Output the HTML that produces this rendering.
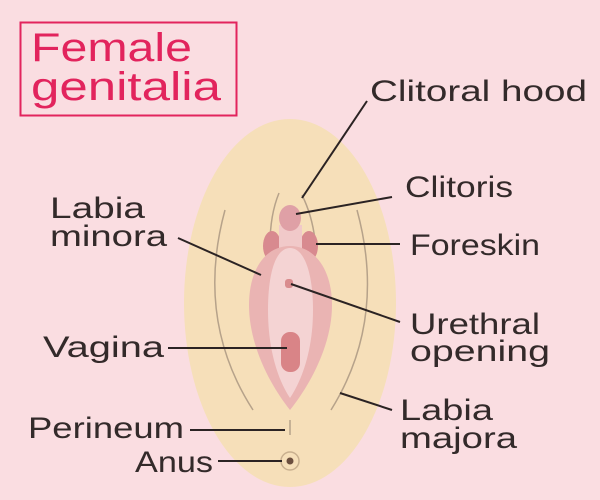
<!DOCTYPE html>
<html><head><meta charset="utf-8"><style>
html,body{margin:0;padding:0;background:#fadde1;}
svg{display:block}
text{font-family:"Liberation Sans",sans-serif;}
</style></head><body>
<svg width="600" height="500" viewBox="0 0 600 500" xmlns="http://www.w3.org/2000/svg">
<rect width="600" height="500" fill="#fadde1"/>
<rect x="20.5" y="22.5" width="216" height="93" fill="none" stroke="#e2245d" stroke-width="2"/>
<text x="31" y="61" font-size="40" fill="#e2245d" textLength="161" lengthAdjust="spacingAndGlyphs">Female</text>
<text x="31" y="100" font-size="40" fill="#e2245d" textLength="190" lengthAdjust="spacingAndGlyphs">genitalia</text>

<ellipse cx="290" cy="303" rx="106" ry="184" fill="#f6dfb9"/>
<path d="M225 210 Q195 320 253 410" fill="none" stroke="#b6a28a" stroke-width="1.5"/>
<path d="M357 210 Q387 320 331 410" fill="none" stroke="#b6a28a" stroke-width="1.5"/>
<path d="M279 193 Q270 215 270 245" fill="none" stroke="#b6a28a" stroke-width="1.5"/>
<path d="M302 195 Q312 215 315 240" fill="none" stroke="#b6a28a" stroke-width="1.5"/>
<ellipse cx="272" cy="246" rx="9" ry="15" fill="#d88a8f"/>
<ellipse cx="309" cy="246" rx="9" ry="15" fill="#d88a8f"/>
<rect x="279" y="225" width="23" height="28" fill="#f1c9c9"/>
<path d="M290 246 C265 246 249 270 249 305 C249 345 270 385 290 410 C310 385 332 345 332 305 C332 270 315 246 290 246 Z" fill="#eab4b3"/>
<path d="M290 248 C275 248 268 275 268 310 C268 350 278 380 290 398 C302 380 313 350 313 310 C313 275 305 248 290 248 Z" fill="#f4d3d3"/>
<ellipse cx="290" cy="218" rx="11" ry="13" fill="#dfa0a6"/>
<rect x="285" y="279" width="8" height="9" rx="3" fill="#d98c8e"/>
<rect x="281" y="332" width="19" height="40" rx="9" fill="#d98487"/>
<line x1="290" y1="420" x2="290" y2="435" stroke="#b6a28a" stroke-width="1.5"/>
<circle cx="290" cy="461" r="9" fill="none" stroke="#c9b08f" stroke-width="1.5"/>
<circle cx="290" cy="461" r="3.5" fill="#6b4e3e"/>

<g stroke="#2b2323" stroke-width="2" fill="none">
<line x1="367" y1="101" x2="302" y2="198"/>
<line x1="392" y1="197" x2="296" y2="214"/>
<line x1="316" y1="244" x2="400" y2="244"/>
<line x1="178" y1="238" x2="261" y2="275"/>
<line x1="291" y1="284" x2="400" y2="322"/>
<line x1="168" y1="348" x2="287" y2="348"/>
<line x1="340" y1="393" x2="392" y2="410"/>
<line x1="190" y1="430" x2="285" y2="430"/>
<line x1="218" y1="461" x2="282" y2="461"/>
</g>
<g fill="#332a2a" font-size="30">
<text x="370" y="101" textLength="217" lengthAdjust="spacingAndGlyphs">Clitoral hood</text>
<text x="405" y="197" textLength="108" lengthAdjust="spacingAndGlyphs">Clitoris</text>
<text x="410" y="255" textLength="130" lengthAdjust="spacingAndGlyphs">Foreskin</text>
<text x="50" y="218" textLength="95" lengthAdjust="spacingAndGlyphs">Labia</text>
<text x="50" y="246" textLength="117" lengthAdjust="spacingAndGlyphs">minora</text>
<text x="410" y="334" textLength="130" lengthAdjust="spacingAndGlyphs">Urethral</text>
<text x="410" y="361" textLength="140" lengthAdjust="spacingAndGlyphs">opening</text>
<text x="43" y="357" textLength="121" lengthAdjust="spacingAndGlyphs">Vagina</text>
<text x="400" y="420" textLength="93" lengthAdjust="spacingAndGlyphs">Labia</text>
<text x="400" y="448" textLength="117" lengthAdjust="spacingAndGlyphs">majora</text>
<text x="28" y="438" textLength="156" lengthAdjust="spacingAndGlyphs">Perineum</text>
<text x="135" y="472" textLength="78" lengthAdjust="spacingAndGlyphs">Anus</text>
</g>
</svg>
</body></html>
